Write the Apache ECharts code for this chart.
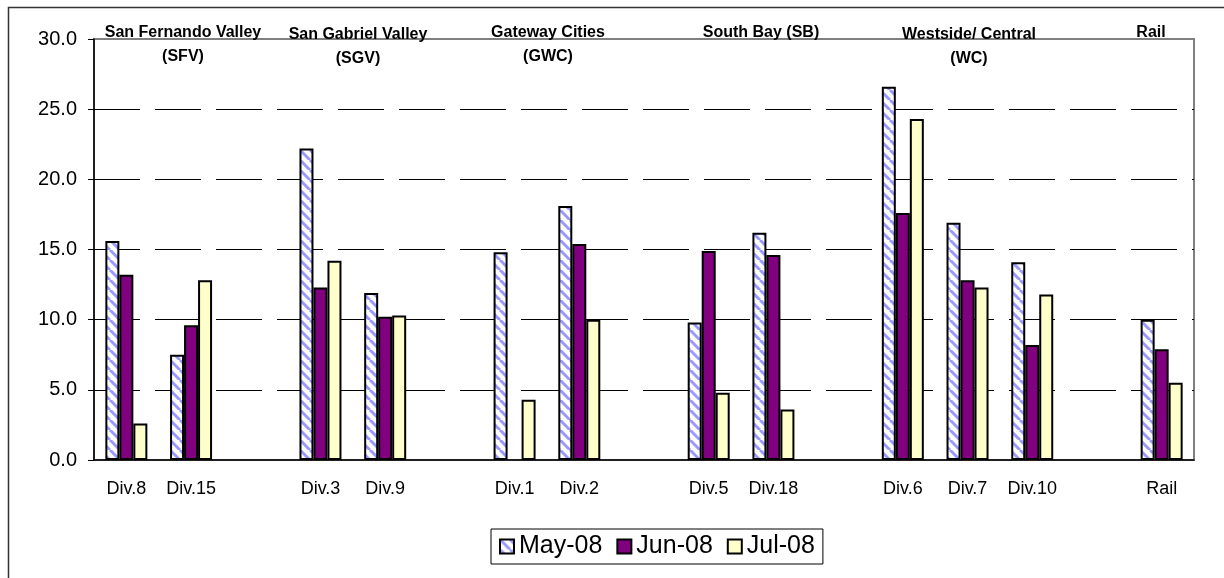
<!DOCTYPE html>
<html>
<head>
<meta charset="utf-8">
<script src="https://cdn.jsdelivr.net/npm/echarts@6.0.0/dist/echarts.min.js"></script>
<style>
  html, body { margin: 0; padding: 0; background: #fff; }
  #chart { width: 1224px; height: 578px; }
</style>
</head>
<body>
<div id="chart"></div>
<script>
// divisions (blank entries are the spacer columns between regions)
const categories = ["Div.8", "Div.15", " ", "Div.3", "Div.9", "  ", "Div.1", "Div.2", "   ",
  "Div.5", "Div.18", "    ", "Div.6", "Div.7", "Div.10", "     ", "Rail"];
const seriesNames = ["May-08", "Jun-08", "Jul-08"];
const may08 = [15.6, 7.5, null, 22.2, 11.9, null, 14.8, 18.1, null, 9.8, 16.2, null, 26.6, 16.9, 14.1, null, 10.0];
const jun08 = [13.2, 9.6, null, 12.3, 10.2, null, null, 15.4, null, 14.9, 14.6, null, 17.6, 12.8, 8.2, null, 7.9];
const jul08 = [2.6, 12.8, null, 14.2, 10.3, null, 4.3, 10.0, null, 4.8, 3.6, null, 24.3, 12.3, 11.8, null, 5.5];
const yMin = 0;
const yMax = 30;
const yStep = 5;
const regionLabels = ["San Fernando Valley\n(SFV)", "San Gabriel Valley\n(SGV)", "Gateway Cities\n(GWC)",
  "South Bay (SB)", "Westside/ Central\n(WC)", "Rail"];

const FONT = "Arial, 'Liberation Sans', sans-serif";

// diagonal stripe fill for May-08
const makeStripes = () => {
  const s = 10;
  const c = document.createElement("canvas");
  c.width = s;
  c.height = s;
  const ctx = c.getContext("2d");
  ctx.fillStyle = "#ffffff";
  ctx.fillRect(0, 0, s, s);
  ctx.strokeStyle = "#9999ff";
  ctx.lineWidth = 3;
  [-s, 0, s].forEach(k => {
    ctx.beginPath();
    ctx.moveTo(k, 0);
    ctx.lineTo(k + s, s);
    ctx.stroke();
  });
  return c;
};

const colors = [
  { image: makeStripes(), repeat: "repeat" },
  "#800080",
  "#ffffcc"
];

// region label placement (text boxes over the plot)
const regionPos = [
  [183, 20], [358, 22], [548, 20], [761, 20], [969, 22], [1151, 20]
];

const chart = echarts.init(document.getElementById("chart"));

const option = {
  animation: false,
  textStyle: { fontFamily: FONT, color: "#000" },
  grid: {
    left: 94,
    right: 30,
    top: 39,
    bottom: 118,
    show: true,
    borderColor: "#808080",
    borderWidth: 2,
    backgroundColor: "transparent"
  },
  legend: {
    data: seriesNames,
    icon: "rect",
    left: 491,
    top: 529,
    padding: [5, 8],
    itemGap: 14,
    itemWidth: 14,
    itemHeight: 14,
    borderColor: "#000",
    borderWidth: 1,
    textStyle: { fontSize: 25, color: "#000", fontFamily: FONT }
  },
  xAxis: {
    type: "category",
    data: categories,
    axisLine: { lineStyle: { color: "#000", width: 1.5 } },
    axisTick: { interval: 0, length: 6, lineStyle: { color: "#000" } },
    axisLabel: { interval: 0, fontSize: 18, color: "#000", margin: 20, fontFamily: FONT },
    splitLine: { show: false }
  },
  yAxis: {
    type: "value",
    min: yMin,
    max: yMax,
    interval: yStep,
    axisLine: { show: true, lineStyle: { color: "#000", width: 1.5 } },
    axisTick: { show: true, length: 6, lineStyle: { color: "#000" } },
    axisLabel: {
      fontSize: 20,
      color: "#000",
      margin: 17,
      fontFamily: FONT,
      formatter: v => v.toFixed(1)
    },
    splitLine: {
      show: true,
      showMinLine: false,
      showMaxLine: false,
      lineStyle: { color: "#000", width: 1, type: [46, 15] }
    }
  },
  series: [may08, jun08, jul08].map((d, i) => ({
    name: seriesNames[i],
    type: "bar",
    data: d,
    barWidth: 14,
    barGap: "0%",
    itemStyle: { color: colors[i], borderColor: "#000", borderWidth: 2 },
    emphasis: { disabled: true }
  })),
  graphic: [
    {
      type: "rect",
      silent: true,
      z: -1,
      shape: { x: 8.5, y: 7.5, width: 1300, height: 700 },
      style: { fill: "none", stroke: "#333", lineWidth: 1.5 }
    },
    ...regionLabels.map((t, i) => ({
      type: "text",
      silent: true,
      x: regionPos[i][0],
      y: regionPos[i][1],
      style: {
        text: t,
        font: "bold 16px " + FONT,
        fill: "#000",
        align: "center",
        verticalAlign: "top",
        lineHeight: 24.5
      }
    }))
  ]
};

chart.setOption(option);
</script>
</body>
</html>
